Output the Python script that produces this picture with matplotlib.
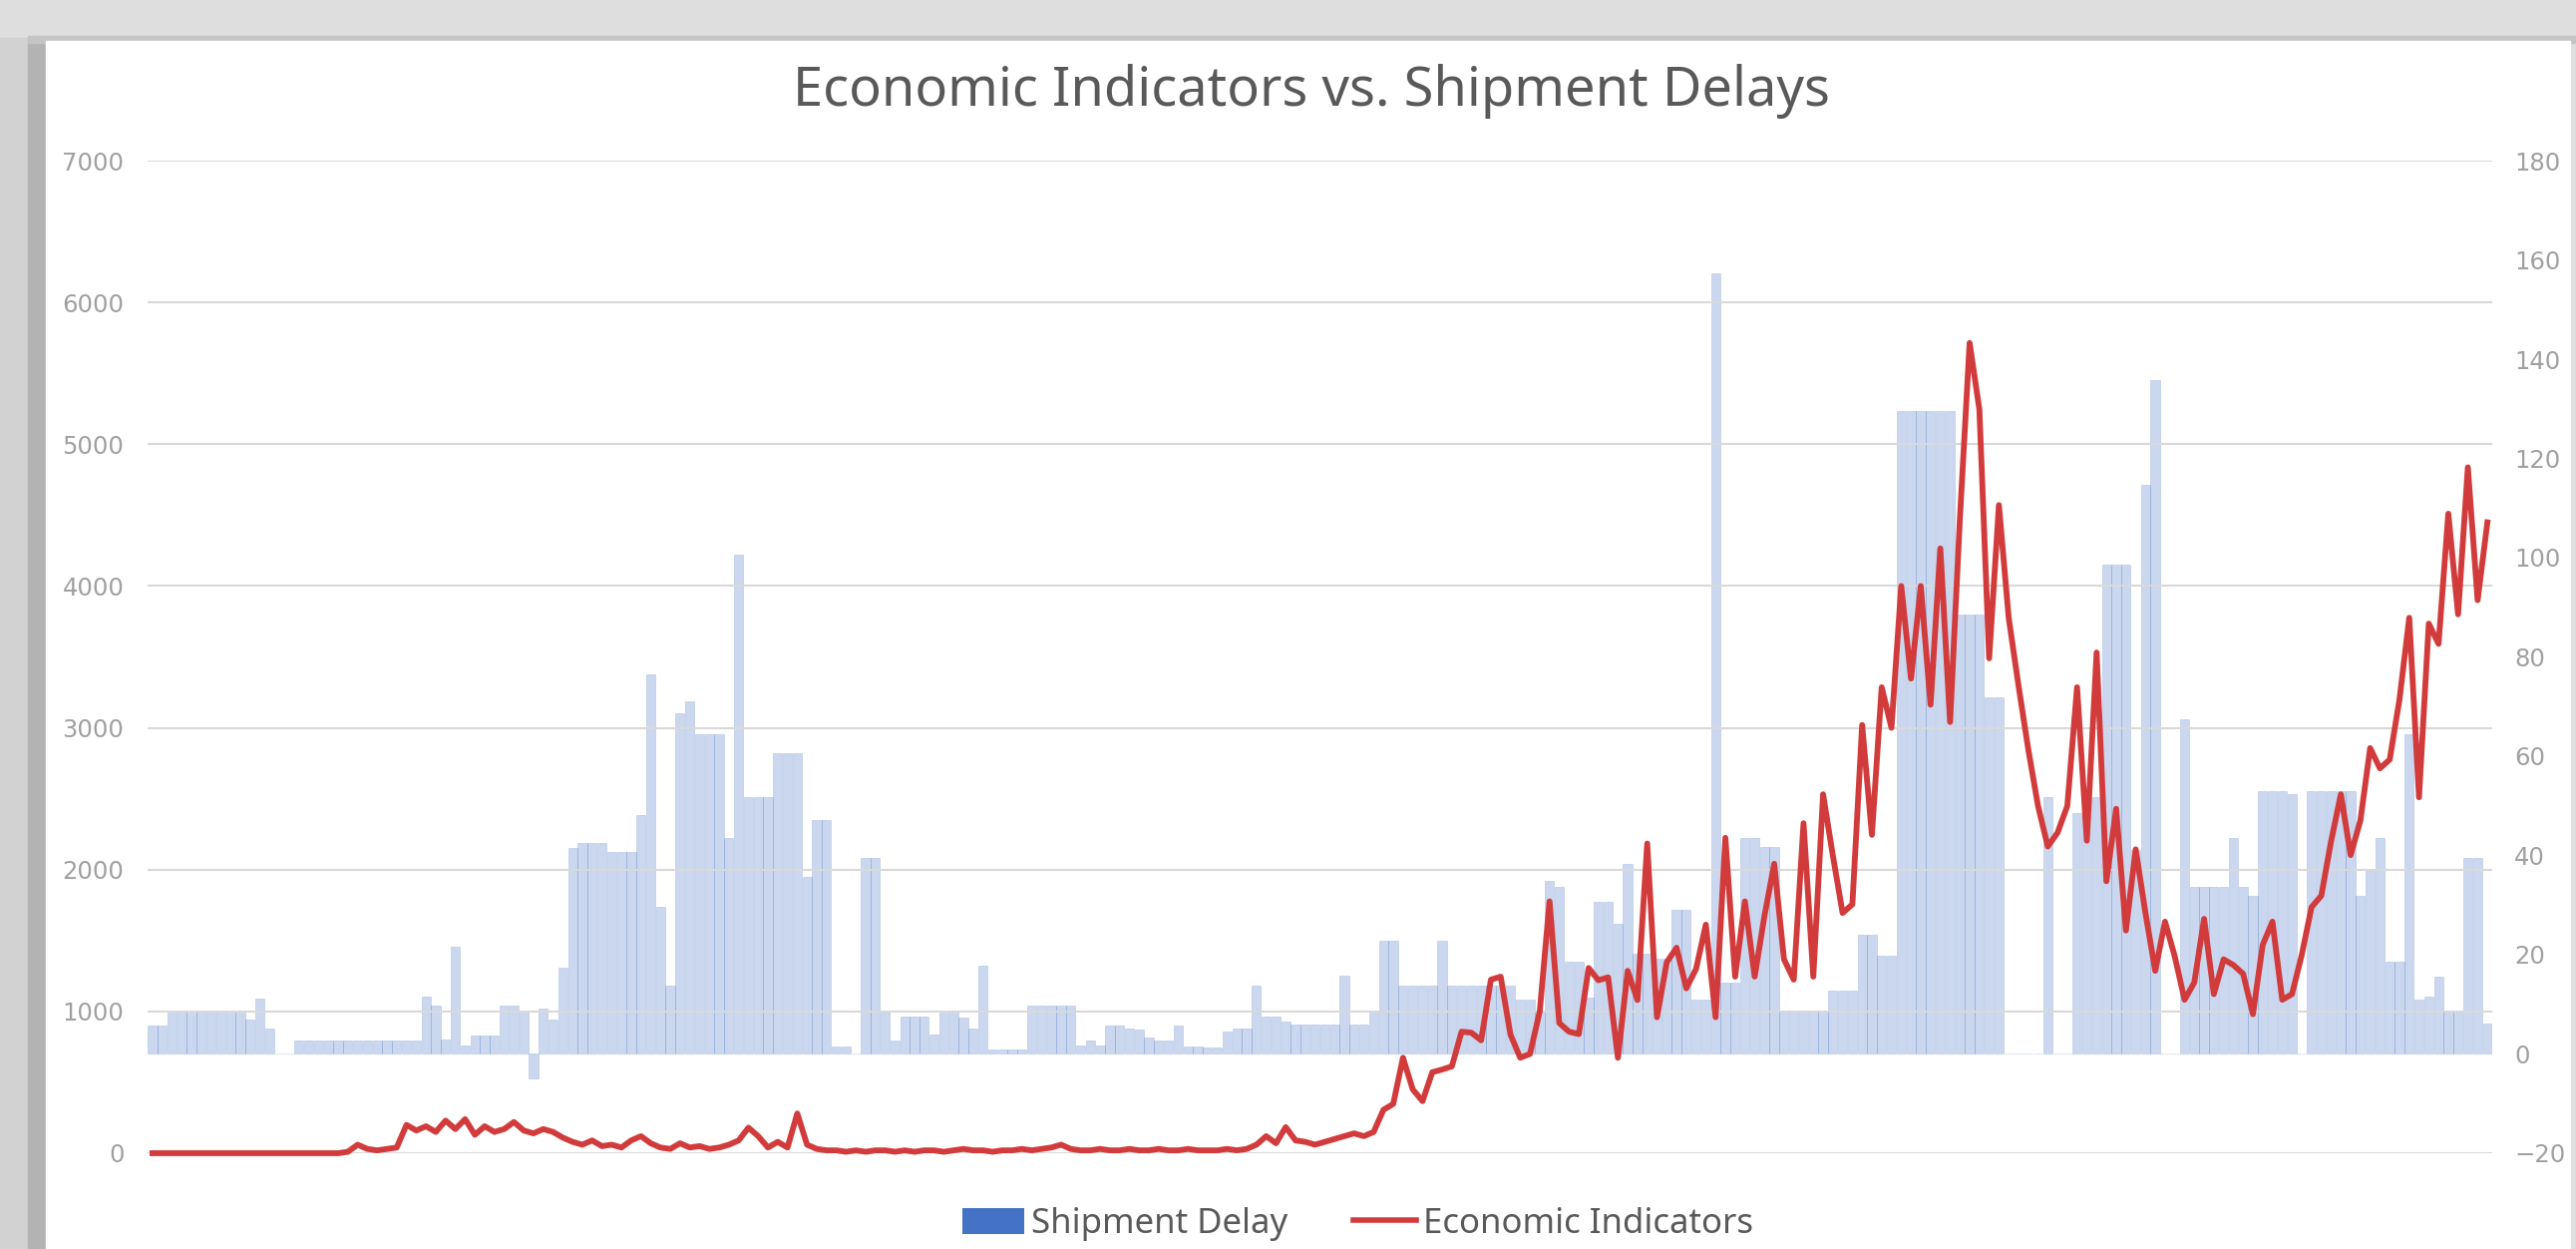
import numpy as np
import matplotlib.pyplot as plt
from matplotlib.patches import Rectangle, Patch
from matplotlib.lines import Line2D

plt.rcParams['font.family'] = ['Noto Sans', 'DejaVu Sans']

# shipment delay (right axis), one value per category
delay = [5.7, 5.7, 8.8, 8.8, 8.8, 8.8, 8.8, 8.8, 8.8, 8.8,
         6.9, 11.1, 5.1, 0, 0, 2.7, 2.7, 2.7, 2.7, 2.7,
         2.7, 2.7, 2.7, 2.7, 2.7, 2.7, 2.7, 2.7, 11.5, 9.7,
         2.9, 21.6, 1.7, 3.7, 3.7, 3.7, 9.7, 9.7, 8.8, -4.9,
         9.1, 6.9, 17.3, 41.5, 42.6, 42.6, 42.6, 40.6, 40.6, 40.6,
         48.2, 76.5, 29.6, 13.8, 68.6, 71.0, 64.5, 64.5, 64.5, 43.5,
         100.7, 51.7, 51.7, 51.7, 60.5, 60.5, 60.5, 35.6, 47.1, 47.1,
         1.6, 1.6, 0, 39.5, 39.5, 8.6, 2.7, 7.6, 7.6, 7.6,
         3.9, 8.8, 8.8, 7.4, 5.1, 17.7, 1.0, 1.0, 1.0, 1.0,
         9.7, 9.7, 9.7, 9.7, 9.7, 1.7, 2.7, 1.7, 5.7, 5.7,
         5.1, 4.9, 3.3, 2.7, 2.7, 5.7, 1.6, 1.6, 1.3, 1.3,
         4.5, 5.1, 5.1, 13.8, 7.6, 7.6, 6.5, 6.0, 6.0, 6.0,
         6.0, 6.0, 15.8, 6.0, 6.0, 8.8, 22.8, 22.8, 13.8, 13.8,
         13.8, 13.8, 22.8, 13.8, 13.8, 13.8, 13.8, 13.8, 13.8, 13.8,
         10.9, 10.9, 8.8, 34.8, 33.7, 18.5, 18.5, 11.4, 30.7, 30.7,
         26.3, 38.3, 20.2, 20.2, 19.1, 19.1, 29.0, 29.0, 10.9, 10.9,
         157.3, 14.4, 14.4, 43.5, 43.5, 41.8, 41.8, 8.8, 8.8, 8.8,
         8.8, 8.8, 12.7, 12.7, 12.7, 24.0, 24.0, 19.7, 19.7, 129.6,
         129.6, 129.6, 129.6, 129.6, 129.6, 88.6, 88.6, 88.6, 71.8, 71.8,
         0, 0, 0, 0, 51.7, 0, 0, 48.6, 51.7, 51.7,
         98.6, 98.6, 98.6, 41.2, 114.7, 135.7, 0, 0, 67.5, 33.7,
         33.7, 33.7, 33.7, 43.5, 33.7, 31.9, 52.9, 52.9, 52.9, 52.3,
         0, 52.9, 52.9, 52.9, 52.9, 52.9, 31.9, 37.1, 43.5, 18.5,
         18.5, 64.5, 10.9, 11.5, 15.6, 8.8, 8.8, 39.5, 39.5, 6.2]

# economic indicators (left axis)
econ = [0, 0, 0, 0, 0, 0, 0, 0, 0, 0,
        0, 0, 0, 0, 0, 0, 0, 0, 0, 0,
        10, 60, 30, 20, 30, 40, 200, 160, 190, 150,
        230, 170, 240, 130, 190, 150, 170, 220, 160, 140,
        170, 150, 110, 80, 60, 90, 50, 60, 40, 90,
        120, 70, 40, 30, 70, 40, 50, 30, 40, 60,
        90, 180, 120, 40, 80, 40, 280, 60, 30, 20,
        20, 10, 20, 10, 20, 20, 10, 20, 10, 20,
        20, 10, 20, 30, 20, 20, 10, 20, 20, 30,
        20, 30, 40, 60, 30, 20, 20, 30, 20, 20,
        30, 20, 20, 30, 20, 20, 30, 20, 20, 20,
        30, 20, 30, 60, 120, 70, 184, 90, 80, 60,
        80, 100, 120, 140, 120, 150, 306, 347, 673, 450,
        367, 571, 590, 612, 857, 850, 796, 1224, 1245, 837,
        673, 700, 1000, 1776, 918, 857, 840, 1306, 1220, 1240,
        673, 1286, 1080, 2184, 959, 1347, 1449, 1163, 1300, 1612,
        959, 2224, 1245, 1776, 1245, 1673, 2041, 1367, 1224, 2327,
        1245, 2531, 2100, 1694, 1755, 3020, 2245, 3286, 3000, 4000,
        3347, 4000, 3163, 4265, 3041, 4469, 5714, 5245, 3490, 4571,
        3776, 3300, 2850, 2450, 2163, 2260, 2449, 3286, 2204, 3531,
        1918, 2429, 1571, 2143, 1694, 1286, 1633, 1388, 1082, 1204,
        1653, 1122, 1367, 1327, 1265, 980, 1469, 1633, 1082, 1122,
        1400, 1735, 1816, 2200, 2531, 2102, 2347, 2857, 2714, 2776,
        3200, 3776, 2510, 3735, 3592, 4510, 3800, 4837, 3900, 4449]

left_ticks = [0, 1000, 2000, 3000, 4000, 5000, 6000, 7000]
right_ticks = [-20, 0, 20, 40, 60, 80, 100, 120, 140, 160, 180]

x = np.arange(len(delay))

fig = plt.figure(figsize=(25.83, 12.52), dpi=100)
fig.patch.set_facecolor('#dedede')
# blurred frame around the chart
fig.add_artist(Rectangle((0.0, 0), 0.011, 0.97, transform=fig.transFigure,
                         color='#d2d2d2', zorder=0))
fig.add_artist(Rectangle((0.011, 0), 0.008, 0.970, transform=fig.transFigure,
                         color='#b3b3b3', zorder=0))
fig.add_artist(Rectangle((0.011, 0.966), 0.99, 0.005, transform=fig.transFigure,
                         color='#c4c4c4', zorder=0))
fig.add_artist(Rectangle((0.0178, 0), 0.9799, 0.9673, transform=fig.transFigure,
                         color='white', zorder=0))

ax = fig.add_axes([0.0573, 0.0767, 0.9102, 0.7947])
ax.set_facecolor('none')
ax.bar(x, delay, width=0.94, color=(0.267, 0.447, 0.769, 0.28),
       edgecolor=(0.267, 0.447, 0.769, 0.22), linewidth=0.6)
ax.set_ylim(-20, 180)
ax.set_xlim(-0.5, len(delay) - 0.5)
ax.set_xticks([])

ax2 = ax.twinx()
ax2.plot(x, econ, color='#d23b3b', lw=4.2, solid_joinstyle='round', clip_on=False)
ax2.set_ylim(0, 7000)
ax2.yaxis.tick_left()
ax2.set_yticks(left_ticks)
ax2.grid(axis='y', color='#d9d9d9', lw=1.5)
ax2.set_axisbelow(True)

# twinx moves the first axis ticks to the left, put them back on the right
ax.yaxis.tick_right()
ax.set_yticks(right_ticks)

for a in (ax, ax2):
    for s in a.spines.values():
        s.set_visible(False)
    a.tick_params(axis='both', length=0, labelsize=17.5, colors='#a0a0a0')
ax.tick_params(axis='y', pad=16)
ax2.tick_params(axis='y', pad=17)
for lab in ax.get_yticklabels() + ax2.get_yticklabels():
    lab.set_family('DejaVu Sans')

fig.text(0.509, 0.927, 'Economic Indicators vs. Shipment Delays', ha='center', va='center',
         fontsize=39, color='#595959')

handles = [Patch(facecolor='#4472c4'), Line2D([], [], color='#d23b3b', lw=4)]
fig.legend(handles, ['Shipment Delay', 'Economic Indicators'], loc='center',
           bbox_to_anchor=(0.527, 0.02), ncol=2, frameon=False, fontsize=25,
           handlelength=1.8, handleheight=0.8, columnspacing=1.9, handletextpad=0.2,
           labelcolor='#595959')

fig.savefig('out.png', dpi=100, facecolor=fig.get_facecolor())
